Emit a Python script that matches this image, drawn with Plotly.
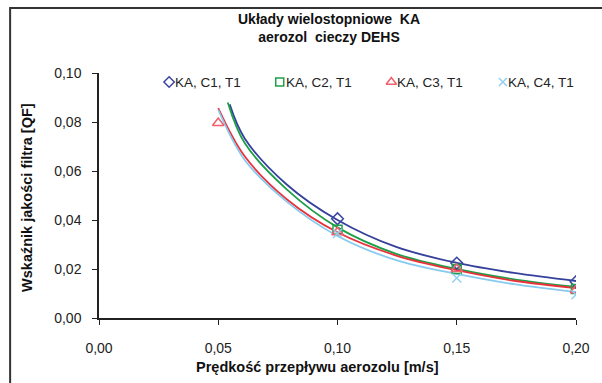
import plotly.graph_objects as go

series_names = ["KA, C1, T1", "KA, C2, T1", "KA, C3, T1", "KA, C4, T1"]

# measured points (markers visible in the chart)
c1_x = [0.10, 0.15, 0.20]
c1_y = [0.0405, 0.0224, 0.0148]
c2_x = [0.10, 0.15, 0.20]
c2_y = [0.0360, 0.0200, 0.0118]
c3_x = [0.05, 0.10, 0.15, 0.20]
c3_y = [0.0796, 0.0350, 0.0200, 0.0113]
c4_x = [0.10, 0.15, 0.20]
c4_y = [0.0345, 0.0163, 0.0095]

# trendline curves, values
t1_x = [0.0548, 0.0611, 0.0787, 0.10, 0.1246, 0.15, 0.174, 0.20]
t1_y = [0.0872, 0.0733, 0.0545, 0.0400, 0.0290, 0.0225, 0.0184, 0.0151]
t2_x = [0.0540, 0.0611, 0.0787, 0.10, 0.1246, 0.15, 0.174, 0.20]
t2_y = [0.0880, 0.0714, 0.0525, 0.0370, 0.0262, 0.0200, 0.0158, 0.0127]
t3_x = [0.050, 0.0611, 0.0787, 0.10, 0.1246, 0.15, 0.174, 0.20]
t3_y = [0.0857, 0.0660, 0.0485, 0.0350, 0.0255, 0.0195, 0.0152, 0.0122]
t4_x = [0.050, 0.0611, 0.0787, 0.10, 0.1246, 0.15, 0.174, 0.20]
t4_y = [0.0850, 0.0645, 0.0475, 0.0335, 0.0236, 0.0180, 0.0138, 0.0106]

x_ticks = [0.00, 0.05, 0.10, 0.15, 0.20]
y_ticks = [0.00, 0.02, 0.04, 0.06, 0.08, 0.10]

line_colors = ["#35409A", "#1E9E48", "#E8333D", "#86CBEF"]
marker_colors = ["#3A46A0", "#1FA04A", "#F0606E", "#8FD0F2"]
symbols = ["diamond-open", "square-open", "triangle-up-open", "x-thin-open"]
sizes = [9, 9, 10, 9]

points = [(c1_x, c1_y), (c2_x, c2_y), (c3_x, c3_y), (c4_x, c4_y)]
trends = [(t1_x, t1_y), (t2_x, t2_y), (t3_x, t3_y), (t4_x, t4_y)]

FONT = "Liberation Sans, Arial, sans-serif"

W, H = 602, 383
L, R, T, B = 99, 20, 73, 65
pw, ph = W - L - R, H - T - B


def px2x(p):
    return (p - L) / pw


def px2y(p):
    return (H - B - p) / ph


# legend layout (pixel positions of marker centres / text starts)
leg_marker_px = [170, 282, 395, 508]
leg_text_px = [177, 289, 402, 514]
leg_y_px = 82

fig = go.Figure()

for i, (tx, ty) in enumerate(trends):
    fig.add_trace(go.Scatter(x=tx, y=ty, mode="lines",
                             line=dict(color=line_colors[i], width=1.8,
                                       shape="spline", smoothing=1.0),
                             showlegend=False, hoverinfo="skip"))

for i, (px, py) in enumerate(points):
    fig.add_trace(go.Scatter(x=px, y=py, mode="markers", name=series_names[i],
                             showlegend=False,
                             marker=dict(symbol=symbols[i], size=sizes[i],
                                         color=marker_colors[i],
                                         line=dict(color=marker_colors[i], width=1.5))))

# legend symbols on an overlay axis spanning the plot area
for i in range(4):
    fig.add_trace(go.Scatter(x=[px2x(leg_marker_px[i])], y=[px2y(leg_y_px)],
                             xaxis="x2", yaxis="y2", mode="markers",
                             showlegend=False, hoverinfo="skip",
                             marker=dict(symbol=symbols[i], size=sizes[i] - 1,
                                         color=marker_colors[i],
                                         line=dict(color=marker_colors[i], width=1.5))))

annotations = [
    dict(text="<b>Układy wielostopniowe  KA<br>aerozol  cieczy DEHS</b>",
         xref="paper", yref="paper", x=px2x(332), y=px2y(27.5),
         xanchor="center", yanchor="middle", showarrow=False,
         font=dict(size=14, color="#111")),
    dict(text="<b>Prędkość przepływu aerozolu [m/s]</b>",
         xref="paper", yref="paper", x=px2x(320), y=px2y(367),
         xanchor="center", yanchor="middle", showarrow=False,
         font=dict(size=14.5, color="#111")),
    dict(text="<b>Wskaźnik jakości filtra [QF]</b>",
         xref="paper", yref="paper", x=px2x(26), y=px2y(197),
         xanchor="center", yanchor="middle", showarrow=False, textangle=-90,
         font=dict(size=14.5, color="#111")),
]
for i in range(4):
    annotations.append(dict(text=series_names[i], xref="paper", yref="paper",
                            x=px2x(leg_text_px[i]), y=px2y(leg_y_px),
                            xanchor="left", yanchor="middle", showarrow=False,
                            xshift=-3,
                            font=dict(size=13.5, color="#222")))

fig.update_layout(
    width=W, height=H,
    margin=dict(l=L, r=R, t=T, b=B),
    paper_bgcolor="white", plot_bgcolor="white",
    separators=", ",
    font=dict(family=FONT, size=13, color="#222"),
    showlegend=False,
    xaxis=dict(range=[0, 0.20], tickvals=x_ticks, tickformat=".2f",
               showgrid=False, zeroline=False, showline=True,
               linecolor="#222", linewidth=1.5, ticks="outside", ticklen=5,
               tickcolor="#222", ticklabelstandoff=11,
               tickfont=dict(size=14, color="#222")),
    yaxis=dict(range=[0, 0.10], tickvals=y_ticks, tickformat=".2f",
               showgrid=False, zeroline=False, showline=True,
               linecolor="#222", linewidth=1.5, ticks="outside", ticklen=5,
               tickcolor="#222", ticklabelstandoff=8,
               tickfont=dict(size=14, color="#222")),
    xaxis2=dict(overlaying="x", range=[0, 1], visible=False, fixedrange=True),
    yaxis2=dict(overlaying="y", range=[0, 1], visible=False, fixedrange=True),
    annotations=annotations,
    shapes=[dict(type="rect", xref="paper", yref="paper",
                 x0=px2x(9), x1=px2x(640), y0=px2y(420), y1=px2y(8),
                 line=dict(color="#333", width=2), fillcolor="rgba(0,0,0,0)",
                 layer="below")],
)

fig.write_html("out.html")
